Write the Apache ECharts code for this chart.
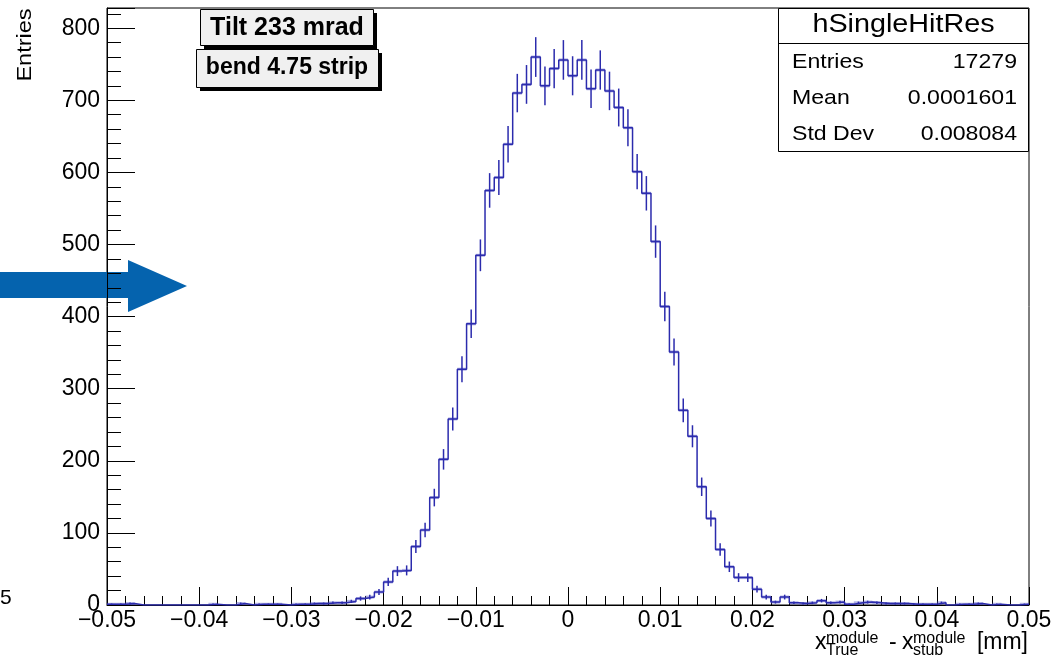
<!DOCTYPE html>
<html>
<head>
<meta charset="utf-8">
<script src="https://cdn.jsdelivr.net/npm/echarts@6/dist/echarts.min.js"></script>
<style>
  html, body { margin: 0; padding: 0; background: #fff; }
  #chart { width: 1052px; height: 661px; }
</style>
</head>
<body>
<div id="chart"></div>
<script>
// histogram binning (100 bins from -0.05 to 0.05)
const xMin = -0.05;
const xMax = 0.05;
const binWidth = 0.001;

// bin contents
const counts = [
  1, 1, 2, 0, 0, 0, 0, 0, 0, 0,
  0, 1, 0, 0, 2, 0, 1, 1, 1, 0,
  1, 1, 2, 2, 3, 3, 5, 9, 11, 18,
  32, 47, 48, 81, 104, 149, 202, 258, 327, 390,
  485, 575, 593, 639, 710, 722, 760, 720, 744, 756,
  734, 756, 716, 742, 713, 690, 662, 601, 571, 504,
  414, 351, 270, 234, 164, 120, 77, 53, 38, 38,
  22, 11, 4, 11, 3, 2, 3, 6, 3, 4,
  1, 3, 4, 3, 2, 2, 2, 1, 1, 1,
  3, 0, 1, 1, 2, 0, 1, 0, 0, 1
];

const histName = "hSingleHitRes";
const statLabels = ["Entries", "Mean", "Std Dev"];
const statValues = ["17279", "0.0001601", "0.008084"];
const boxTexts = ["Tilt 233 mrad", "bend 4.75 strip"];

const FONT = "'Liberation Sans', Arial, Helvetica, sans-serif";
const LINE = "#2b2bad";

const stepData = counts.map((c, i) => [xMin + i * binWidth, c]);
stepData.push([xMax, counts[counts.length - 1]]);
const binData = counts.map((c, i) => [xMin + (i + 0.5) * binWidth, c]);

function fmtX(v) {
  const r = Math.round(v * 100) / 100;
  if (r === 0) return "0";
  return r < 0 ? "\u2212" + Math.abs(r).toFixed(2) : r.toFixed(2);
}

// horizontal halo + vertical sqrt(N) error bar for each bin
function renderBin(params, api) {
  const x = api.value(0);
  const n = api.value(1);
  if (!n) return null;
  const err = Math.sqrt(n);
  const l = api.coord([x - binWidth / 2, n]);
  const r = api.coord([x + binWidth / 2, n]);
  const lo = api.coord([x, n - err]);
  const hi = api.coord([x, n + err]);
  return {
    type: "group",
    children: [
      { type: "line", shape: { x1: l[0], y1: l[1], x2: r[0], y2: r[1] },
        style: { stroke: "rgba(80,80,195,0.45)", lineWidth: 3 } },
      { type: "line", shape: { x1: lo[0], y1: lo[1], x2: hi[0], y2: hi[1] },
        style: { stroke: LINE, lineWidth: 1.5 } }
    ]
  };
}

const txt = (x, y, text, size, extra, sx) => ({
  type: "text", x: x, y: y, silent: true, scaleX: sx || 1,
  style: Object.assign({ text: text, fontSize: size, fontFamily: FONT, fill: "#000",
    align: "left", verticalAlign: "middle" }, extra || {})
});

const chart = echarts.init(document.getElementById("chart"), null, { renderer: "canvas" });

chart.setOption({
  animation: false,
  backgroundColor: "#fff",
  grid: {
    left: 107, right: 23, top: 8, bottom: 56,
    show: true, borderColor: "#000", borderWidth: 1,
    outerBoundsMode: "none"
  },
  xAxis: {
    type: "value", min: xMin, max: xMax, interval: 0.01,
    axisLine: { show: true, onZero: false, lineStyle: { color: "#000", width: 1 } },
    axisTick: { inside: true, length: 18, lineStyle: { color: "#000" } },
    minorTick: { show: true, splitNumber: 5, length: 9, lineStyle: { color: "#000" } },
    axisLabel: { color: "#000", fontSize: 23, fontFamily: FONT, margin: 4, formatter: fmtX },
    splitLine: { show: false }
  },
  yAxis: [
    {
      type: "value", min: 0, max: 828, interval: 100,
      axisLine: { show: true, onZero: false, lineStyle: { color: "#000", width: 1 } },
      axisTick: { inside: true, length: 28, lineStyle: { color: "#000" } },
      axisLabel: { color: "#000", fontSize: 23, fontFamily: FONT, margin: 7,
        formatter: (v) => (v % 100 === 0 ? String(v) : "") },
      splitLine: { show: false }
    },
    {
      type: "value", min: 0, max: 828, interval: 20, position: "left",
      axisLine: { show: false, onZero: false },
      axisTick: { inside: true, length: 14, lineStyle: { color: "#000" } },
      axisLabel: { show: false },
      splitLine: { show: false }
    }
  ],
  series: [
    {
      type: "custom", renderItem: renderBin, data: binData,
      encode: { x: 0, y: 1 }, clip: true, z: 2
    },
    {
      type: "line", step: "end", data: stepData, symbol: "none",
      lineStyle: { color: LINE, width: 1.5 }, z: 3
    }
  ],
  graphic: [
    // stray label at left edge
    txt(0, 598, "5", 21),
    // blue arrow
    { type: "polygon", silent: true,
      shape: { points: [[0, 272], [128, 272], [128, 260], [187, 286], [128, 312], [128, 298], [0, 298]] },
      style: { fill: "#0563ae" } },
    // y axis title
    { type: "text", x: 25, y: 45, rotation: Math.PI / 2, scaleX: 1.12, silent: true,
      style: { text: "Entries", fontSize: 21, fontFamily: FONT, fill: "#000", align: "center", verticalAlign: "middle" } },
    // tilt / bend boxes
    { type: "rect", shape: { x: 204, y: 13, width: 173, height: 36 }, style: { fill: "#000" } },
    { type: "rect", shape: { x: 200.5, y: 9.5, width: 173, height: 36 }, style: { fill: "#f0f0f0", stroke: "#000", lineWidth: 1 } },
    { type: "rect", shape: { x: 200, y: 53, width: 182, height: 38 }, style: { fill: "#000" } },
    { type: "rect", shape: { x: 196.5, y: 49.5, width: 182, height: 38 }, style: { fill: "#f0f0f0", stroke: "#000", lineWidth: 1 } },
    txt(287, 28, boxTexts[0], 25, { align: "center", fontWeight: "bold" }),
    txt(287, 68, boxTexts[1], 23, { align: "center", fontWeight: "bold" }),
    // stat box
    { type: "rect", shape: { x: 778.5, y: 8.5, width: 250, height: 143 }, style: { fill: "#fff", stroke: "#000", lineWidth: 1 } },
    { type: "line", shape: { x1: 778.5, y1: 43.5, x2: 1028.5, y2: 43.5 }, style: { stroke: "#000", lineWidth: 1 } },
    txt(903.5, 25, histName, 25, { align: "center" }, 1.15),
    txt(792, 62, statLabels[0], 21, null, 1.1), txt(1017, 62, statValues[0], 21, { align: "right" }, 1.1),
    txt(792, 98, statLabels[1], 21, null, 1.1), txt(1017, 98, statValues[1], 21, { align: "right" }, 1.1),
    txt(792, 134, statLabels[2], 21, null, 1.1), txt(1017, 134, statValues[2], 21, { align: "right" }, 1.1),
    // x axis title: x^module_True - x^module_stub [mm]
    txt(815, 643, "x", 23),
    txt(826, 639, "module", 16),
    txt(826, 651, "True", 16),
    txt(889, 643, "-", 23),
    txt(902, 643, "x", 23),
    txt(913, 639, "module", 16),
    txt(913, 651, "stub", 16),
    txt(1028, 643, "[mm]", 23, { align: "right" })
  ]
});
</script>
</body>
</html>
